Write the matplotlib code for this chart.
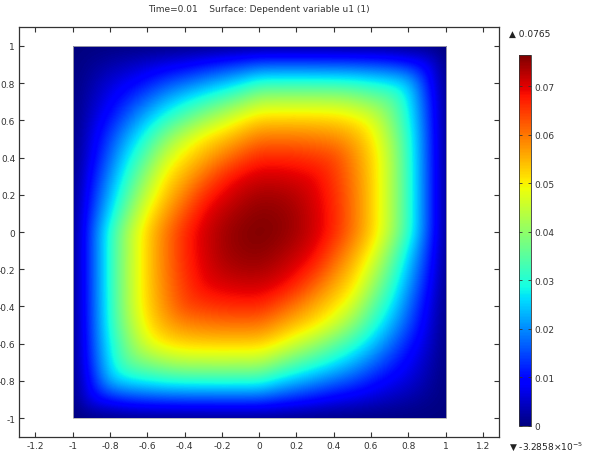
import numpy as np
import matplotlib
matplotlib.use("Agg")
import matplotlib.pyplot as plt
from matplotlib.patches import Rectangle

plt.rcParams['font.family'] = ['DejaVu Sans']
plt.rcParams['axes.unicode_minus'] = False

# Sample positions (x and y), uniform step 0.1, of the field u1
grid_pos = [-1, -0.9, -0.8, -0.7, -0.6, -0.5, -0.4, -0.3, -0.2, -0.1, 0,
            0.1, 0.2, 0.3, 0.4, 0.5, 0.6, 0.7, 0.8, 0.9, 1]

# u1 values, rows from y=1 (top) down to y=-1 (bottom),
# columns from x=-1 to x=1
u_rows = [
    [0] * 21,
    [0, 0.0013, 0.0027, 0.0040, 0.0054, 0.0068, 0.0079, 0.0097, 0.0116, 0.0133, 0.0152, 0.0153, 0.0153, 0.0152, 0.0151, 0.0148, 0.0142, 0.0133, 0.0108, 0.0085, 0],
    [0, 0.0027, 0.0060, 0.0082, 0.0112, 0.0148, 0.0175, 0.0205, 0.0233, 0.0264, 0.0305, 0.0306, 0.0307, 0.0306, 0.0304, 0.0300, 0.0285, 0.0270, 0.0245, 0.0108, 0],
    [0, 0.0040, 0.0082, 0.0130, 0.0180, 0.0232, 0.0275, 0.0312, 0.0349, 0.0389, 0.0435, 0.0436, 0.0438, 0.0437, 0.0436, 0.0420, 0.0390, 0.0365, 0.0270, 0.0133, 0],
    [0, 0.0054, 0.0112, 0.0180, 0.0248, 0.0311, 0.0360, 0.0412, 0.0456, 0.0499, 0.0528, 0.0529, 0.0530, 0.0528, 0.0525, 0.0510, 0.0478, 0.0390, 0.0285, 0.0142, 0],
    [0, 0.0068, 0.0148, 0.0232, 0.0311, 0.0392, 0.0458, 0.0508, 0.0537, 0.0568, 0.0600, 0.0601, 0.0600, 0.0595, 0.0585, 0.0560, 0.0510, 0.0420, 0.0300, 0.0148, 0],
    [0, 0.0079, 0.0175, 0.0275, 0.0360, 0.0458, 0.0515, 0.0553, 0.0593, 0.0633, 0.0665, 0.0665, 0.0662, 0.0650, 0.0640, 0.0585, 0.0525, 0.0436, 0.0304, 0.0151, 0],
    [0, 0.0097, 0.0205, 0.0312, 0.0412, 0.0508, 0.0553, 0.0605, 0.0658, 0.0691, 0.0707, 0.0706, 0.0699, 0.0690, 0.0650, 0.0595, 0.0528, 0.0437, 0.0306, 0.0152, 0],
    [0, 0.0116, 0.0233, 0.0349, 0.0456, 0.0537, 0.0593, 0.0658, 0.0695, 0.0722, 0.0738, 0.0737, 0.0725, 0.0699, 0.0662, 0.0600, 0.0530, 0.0438, 0.0307, 0.0153, 0],
    [0, 0.0133, 0.0264, 0.0389, 0.0499, 0.0568, 0.0633, 0.0691, 0.0722, 0.0743, 0.0757, 0.0752, 0.0737, 0.0706, 0.0665, 0.0601, 0.0529, 0.0436, 0.0306, 0.0153, 0],
    [0, 0.0152, 0.0305, 0.0435, 0.0528, 0.0600, 0.0665, 0.0707, 0.0738, 0.0757, 0.0765, 0.0757, 0.0738, 0.0707, 0.0665, 0.0600, 0.0528, 0.0435, 0.0305, 0.0152, 0],
    [0, 0.0153, 0.0306, 0.0436, 0.0529, 0.0601, 0.0665, 0.0706, 0.0737, 0.0752, 0.0757, 0.0743, 0.0722, 0.0691, 0.0633, 0.0568, 0.0499, 0.0389, 0.0264, 0.0133, 0],
    [0, 0.0153, 0.0307, 0.0438, 0.0530, 0.0600, 0.0662, 0.0699, 0.0725, 0.0737, 0.0738, 0.0722, 0.0695, 0.0658, 0.0593, 0.0537, 0.0456, 0.0349, 0.0233, 0.0116, 0],
    [0, 0.0152, 0.0306, 0.0437, 0.0528, 0.0595, 0.0650, 0.0690, 0.0699, 0.0706, 0.0707, 0.0691, 0.0658, 0.0605, 0.0553, 0.0508, 0.0412, 0.0312, 0.0205, 0.0097, 0],
    [0, 0.0151, 0.0304, 0.0436, 0.0525, 0.0585, 0.0640, 0.0650, 0.0662, 0.0665, 0.0665, 0.0633, 0.0593, 0.0553, 0.0515, 0.0458, 0.0360, 0.0275, 0.0175, 0.0079, 0],
    [0, 0.0148, 0.0300, 0.0420, 0.0510, 0.0560, 0.0585, 0.0595, 0.0600, 0.0601, 0.0600, 0.0568, 0.0537, 0.0508, 0.0458, 0.0392, 0.0311, 0.0232, 0.0148, 0.0068, 0],
    [0, 0.0142, 0.0285, 0.0390, 0.0478, 0.0510, 0.0525, 0.0528, 0.0530, 0.0529, 0.0528, 0.0499, 0.0456, 0.0412, 0.0360, 0.0311, 0.0248, 0.0180, 0.0112, 0.0054, 0],
    [0, 0.0133, 0.0270, 0.0365, 0.0390, 0.0420, 0.0436, 0.0437, 0.0438, 0.0436, 0.0435, 0.0389, 0.0349, 0.0312, 0.0275, 0.0232, 0.0180, 0.0130, 0.0082, 0.0040, 0],
    [0, 0.0108, 0.0245, 0.0270, 0.0285, 0.0300, 0.0304, 0.0306, 0.0307, 0.0306, 0.0305, 0.0264, 0.0233, 0.0205, 0.0175, 0.0148, 0.0112, 0.0082, 0.0060, 0.0027, 0],
    [0, 0.0085, 0.0108, 0.0133, 0.0142, 0.0148, 0.0151, 0.0152, 0.0153, 0.0153, 0.0152, 0.0133, 0.0116, 0.0097, 0.0079, 0.0068, 0.0054, 0.0040, 0.0027, 0.0013, 0],
    [0] * 21,
]

u_min = -3.2858e-5
u_max = 0.0765
x_ticks = [-1.2, -1, -0.8, -0.6, -0.4, -0.2, 0, 0.2, 0.4, 0.6, 0.8, 1, 1.2]
y_ticks = [-1, -0.8, -0.6, -0.4, -0.2, 0, 0.2, 0.4, 0.6, 0.8, 1]
cbar_ticks = [0, 0.01, 0.02, 0.03, 0.04, 0.05, 0.06, 0.07]
title = "Time=0.01    Surface: Dependent variable u1 (1)"

W, H = 594, 460
fig = plt.figure(figsize=(W / 100, H / 100), dpi=100)

# main axes
L, R, T, B = 19.3, 499, 28.3, 437.7
ax = fig.add_axes([L / W, 1 - B / H, (R - L) / W, (B - T) / H])

Z = np.array(u_rows, dtype=float)
half = (grid_pos[1] - grid_pos[0]) / 2
ext = (grid_pos[0] - half, grid_pos[-1] + half, grid_pos[0] - half, grid_pos[-1] + half)
im = ax.imshow(Z, extent=ext, origin='upper', cmap='jet', vmin=u_min, vmax=u_max,
               interpolation='bicubic', interpolation_stage='data', aspect='auto')
clip = Rectangle((grid_pos[0], grid_pos[0]), grid_pos[-1] - grid_pos[0],
                 grid_pos[-1] - grid_pos[0], transform=ax.transData)
im.set_clip_path(clip)
ax.add_patch(Rectangle((grid_pos[0], grid_pos[0]), grid_pos[-1] - grid_pos[0],
                       grid_pos[-1] - grid_pos[0], fill=False,
                       edgecolor='#b0b0b0', linewidth=0.6))

ax.set_xlim(-1.286, 1.286)
ax.set_ylim(-1.1, 1.1)
ax.set_xticks(x_ticks)
ax.set_yticks(y_ticks)
ax.set_xticklabels([f"{v:g}" for v in x_ticks])
ax.set_yticklabels([f"{v:g}" for v in y_ticks])
ax.tick_params(direction='in', length=3.5, width=0.8, colors='#333333',
               labelsize=6.5, top=True, right=True, pad=3, labelcolor='#333333')
for s in ax.spines.values():
    s.set_color('#333333')
    s.set_linewidth(0.9)
ax.set_title(title, fontsize=6.5, color='#333333', pad=12)

# colorbar
cl, cr, ct, cb = 519, 530.7, 55.7, 427
cax = fig.add_axes([cl / W, 1 - cb / H, (cr - cl) / W, (cb - ct) / H])
sm = matplotlib.cm.ScalarMappable(norm=matplotlib.colors.Normalize(u_min, u_max), cmap='jet')
cbar = fig.colorbar(sm, cax=cax)
cbar.set_ticks(cbar_ticks)
cbar.set_ticklabels([f"{v:g}" for v in cbar_ticks])
cax.tick_params(direction='in', length=2, width=0.6, labelsize=6.5, colors='#333333',
                left=True, right=True, pad=3)
cbar.outline.set_linewidth(0.6)
cbar.outline.set_edgecolor('#333333')

fig.text(509 / W, 1 - 34 / H, "\u25B2 0.0765", fontsize=6.5, color='#222222',
         va='center', ha='left')
fig.text(509 / W, 1 - 447 / H, "\u25BC -3.2858\u00d710$^{-5}$", fontsize=6.5,
         color='#222222', va='center', ha='left')

fig.savefig("out.png", dpi=100)
